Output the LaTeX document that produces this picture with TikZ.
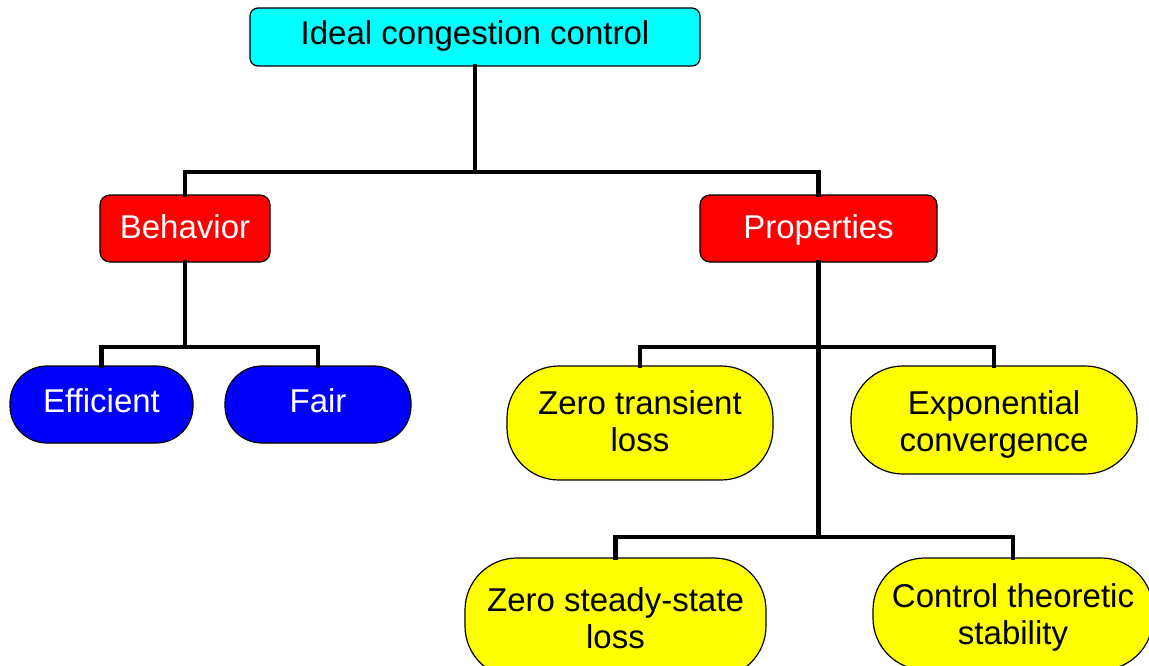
\documentclass[tikz,border=0pt]{standalone}
\usepackage{fontspec}
\setmainfont{Liberation Sans}
\definecolor{cyn}{RGB}{0,255,255}
\definecolor{rd}{RGB}{255,0,0}
\definecolor{bl}{RGB}{0,0,255}
\definecolor{yl}{RGB}{255,255,0}
\begin{document}
\begin{tikzpicture}[x=1pt,y=-1pt,
  box/.style={draw=black,line width=1.2pt,inner sep=0pt,align=center,
    font=\fontsize{33}{37}\selectfont,text height=24pt},
  topbox/.style={box,fill=cyn,rounded corners=8pt,minimum width=450pt,minimum height=58pt,text depth=8.4pt},
  redbox/.style={box,fill=rd,text=white,rounded corners=10pt,minimum height=67pt,text depth=3.2pt},
  bluebox/.style={box,fill=bl,text=white,rounded corners=37pt,minimum height=77pt,text depth=7.4pt},
  yelbox/.style={box,fill=yl,rounded corners=52pt,text height=65pt},
  conn/.style={line width=4.6pt,line join=miter,line cap=rect}]
\useasboundingbox (0,0) rectangle (1149,666);
\clip (0,0) rectangle (1149,666);
\fill[white] (0,0) rectangle (1149,666);
% nodes
\node[topbox] (top) at (475,37) {Ideal congestion control};
\node[redbox,minimum width=170pt] (beh) at (185,228.5) {Behavior};
\node[redbox,minimum width=237pt] (prop) at (818.5,228.5) {Properties};
\node[bluebox,minimum width=183pt] (eff) at (101.5,404.5) {Efficient};
\node[bluebox,minimum width=186pt] (fair) at (318,404.5) {Fair};
\node[yelbox,minimum width=266pt,minimum height=114pt,text depth=7.4pt] (zt) at (640,423) {Zero transient\\loss};
\node[yelbox,minimum width=286pt,minimum height=108pt,text depth=1.4pt] (ex) at (994,420) {Exponential\\convergence};
\node[yelbox,minimum width=301pt,minimum height=120pt,text depth=3.4pt] (zs) at (615.5,618) {Zero steady-state\\loss};
\node[yelbox,minimum width=280pt,minimum height=112pt,text depth=3.4pt] (ct) at (1013,614) {Control theoretic\\stability};
% junctions
\coordinate (j1) at (475,172);
\coordinate (j2) at (185,347);
\coordinate (j3) at (818.5,347);
\coordinate (j4) at (818.5,537);
% connectors
\draw[conn] (top.south) -- (j1);
\draw[conn] (beh.north) |- (j1) -| (prop.north);
\draw[conn] (beh.south) -- (j2);
\draw[conn] (eff.north) |- (j2) -| (fair.north);
\draw[conn] (prop.south) -- (j4);
\draw[conn] (zt.north) |- (j3) -| (ex.north);
\draw[conn] (zs.north) |- (j4) -| (ct.north);
\end{tikzpicture}
\end{document}
